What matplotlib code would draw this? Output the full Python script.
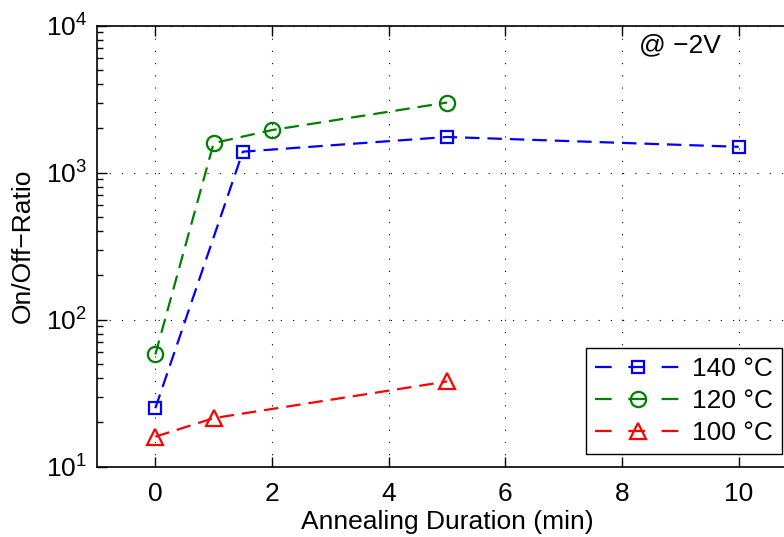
import numpy as np
import matplotlib
matplotlib.use("Agg")
import matplotlib.pyplot as plt
from matplotlib.lines import Line2D

plt.rcParams["font.family"] = ["Liberation Sans", "DejaVu Sans"]
plt.rcParams["mathtext.fontset"] = "custom"
plt.rcParams["mathtext.rm"] = "Liberation Sans"
plt.rcParams["axes.unicode_minus"] = True

# data
t_140 = [0, 1.5, 5, 10]
r_140 = [25, 1390, 1750, 1500]
t_120 = [0, 1, 2, 5]
r_120 = [58, 1590, 1950, 3000]
t_100 = [0, 1, 5]
r_100 = [16, 21.4, 38]

series = [
    (t_140, r_140, "blue", "s", 9, "140 °C"),
    (t_120, r_120, "green", "o", 11, "120 °C"),
    (t_100, r_100, "red", "^", 12, "100 °C"),
]

fs = 19
fig = plt.figure(figsize=(7.84, 5.37), dpi=100)
ax = fig.add_axes([97 / 784, 1 - 466.7 / 537, 700 / 784, 441 / 537])

handles = []
for t, r, c, m, ms, lab in series:
    ax.plot(t, r, color=c, lw=1.6, dashes=(6.5, 3.6), marker=m, ms=ms,
            mfc="none", mec=c, mew=1.6)
    handles.append(Line2D([], [], color=c, lw=1.6, dashes=(7.5, 7.5), marker=m,
                          ms=ms, mfc="none", mec=c, mew=1.6, label=lab))

ax.set_yscale("log")
ax.set_xlim(-1, 11)
ax.set_ylim(10, 1e4)
ax.set_xticks([0, 2, 4, 6, 8, 10])
ax.grid(True, which="major", color="black", lw=0.8, linestyle=(0, (1, 10)))
ax.tick_params(which="both", direction="in", top=True, right=False,
               labelsize=fs, width=1)
ax.tick_params(axis="x", pad=11)
ax.tick_params(axis="y", pad=7)
ax.tick_params(which="major", length=7)
ax.tick_params(which="minor", length=4)
for s in ["left", "bottom", "top"]:
    ax.spines[s].set_linewidth(1.2)
ax.spines["right"].set_visible(False)

ax.set_xlabel("Annealing Duration (min)", fontsize=fs, labelpad=3)
ax.set_ylabel("On/Off\u2212Ratio", fontsize=fs)
ax.yaxis.set_label_coords(-0.089, 0.5)

ax.text(680 / 784, 1 - 45 / 537, "@ \u22122V", transform=fig.transFigure,
        fontsize=fs, ha="center", va="center")

leg = ax.legend(handles=handles, loc="lower right",
                bbox_to_anchor=(782 / 784, 1 - 454 / 537),
                bbox_transform=fig.transFigure, fontsize=fs, handlelength=3.25,
                handletextpad=0.4, labelspacing=0.3, borderpad=0.35,
                borderaxespad=0, fancybox=False, framealpha=1,
                edgecolor="black")
leg.get_frame().set_linewidth(1.0)

fig.savefig("out.png", dpi=100)
